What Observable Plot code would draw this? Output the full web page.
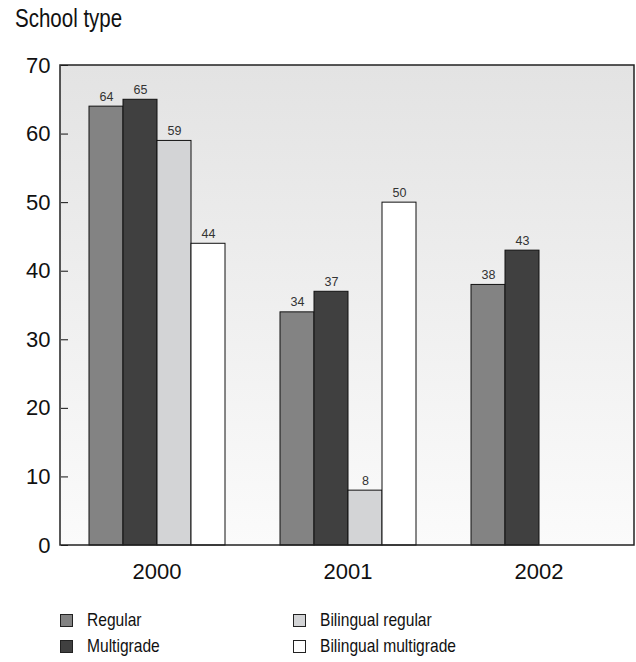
<!DOCTYPE html>
<html>
<head>
<meta charset="utf-8">
<script src="https://cdn.jsdelivr.net/npm/d3@7"></script>
<script src="https://cdn.jsdelivr.net/npm/@observablehq/plot@0.6"></script>
<style>
  html, body { margin: 0; padding: 0; background: #fff; }
  body { width: 636px; height: 662px; overflow: hidden;
         font-family: "Liberation Sans", Arial, sans-serif; color: #111; }
  #title { height: 45px; box-sizing: border-box; padding: 6px 0 0 15px; font-size: 25px; line-height: 25px; }
  .narrow { display: inline-block; transform: scaleX(0.82); transform-origin: left center; white-space: nowrap; }
  #legend { padding: 22px 0 0 60px; display: grid; grid-template-columns: 233px auto; font-size: 19px; line-height: 26px; }
  .item { display: flex; align-items: center; }
  .sw { width: 11px; height: 11px; border: 1px solid #222; margin-right: 14px; flex: none; }
  svg { display: block; }
</style>
</head>
<body>
<div id="title"><span class="narrow">School type</span></div>
<div id="chart"></div>
<div id="legend"></div>
<script>
const years = ["2000", "2001", "2002"];
const series = ["Regular", "Multigrade", "Bilingual regular", "Bilingual multigrade"];
const colors = ["#838383", "#404040", "#d3d4d6", "#ffffff"];
const regular = [64, 34, 38];
const multigrade = [65, 37, 43];
const bilingualRegular = [59, 8, null];
const bilingualMultigrade = [44, 50, null];
const yTicks = [0, 10, 20, 30, 40, 50, 60, 70];

const valuesBySeries = [regular, multigrade, bilingualRegular, bilingualMultigrade];
const data = [];
years.forEach((yr, i) => series.forEach((s, j) => {
  const v = valuesBySeries[j][i];
  if (v != null) data.push({year: yr, series: s, value: v});
}));

const W = 636, ML = 60, MR = 2;
const plot = Plot.plot({
  width: W,
  height: 540,
  marginTop: 20,
  marginBottom: 40,
  marginLeft: ML,
  marginRight: MR,
  style: {fontSize: "22px", fontFamily: "inherit", color: "#111", background: "transparent", overflow: "visible"},
  fx: {domain: years, padding: 0, axis: "bottom", label: null, tickSize: 0, tickPadding: 18},
  x: {domain: series, paddingInner: 0, paddingOuter: 0.733, axis: null},
  y: {domain: [0, 70], ticks: yTicks, tickSize: -7, tickPadding: 18, label: null},
  color: {domain: series, range: colors},
  marks: [
    Plot.barY(data, {fx: "year", x: "series", y: "value", fill: "series", stroke: "#111", strokeWidth: 1}),
    Plot.text(data, {fx: "year", x: "series", y: "value", text: "value", lineAnchor: "bottom", dy: -6, fontSize: 12.5, fill: "#333"})
  ]
});

const svg = d3.select(plot);
const defs = svg.insert("defs", ":first-child");
const g = defs.append("linearGradient").attr("id", "bg").attr("x1", 0).attr("y1", 0).attr("x2", 0).attr("y2", 1);
g.append("stop").attr("offset", "0%").attr("stop-color", "#e3e3e3");
g.append("stop").attr("offset", "100%").attr("stop-color", "#fbfbfb");
const ys = plot.scale("y");
const yTop = ys.apply(70), yBot = ys.apply(0);
svg.insert("rect", "defs + *")
  .attr("x", ML).attr("y", yTop)
  .attr("width", W - ML - MR).attr("height", yBot - yTop)
  .attr("fill", "url(#bg)");
svg.append("rect")
  .attr("x", ML).attr("y", yTop)
  .attr("width", W - ML - MR).attr("height", yBot - yTop)
  .attr("fill", "none").attr("stroke", "#222").attr("stroke-width", 1.5);

document.getElementById("chart").appendChild(plot);

const legend = d3.select("#legend");
const order = [0, 2, 1, 3];
order.forEach(j => {
  const it = legend.append("div").attr("class", "item");
  it.append("span").attr("class", "sw").style("background", colors[j]);
  it.append("span").attr("class", "narrow").text(series[j]);
});
</script>
</body>
</html>
